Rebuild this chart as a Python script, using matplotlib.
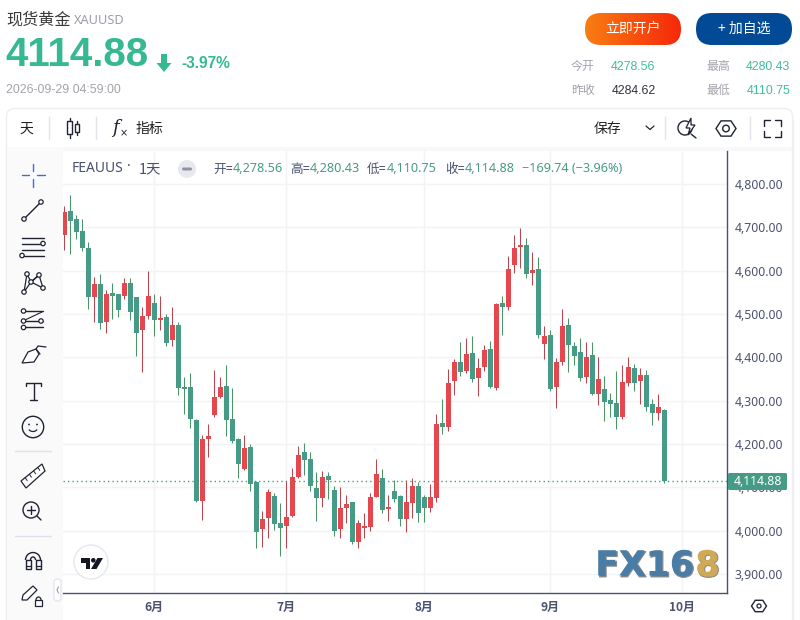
import numpy as np
import matplotlib
matplotlib.use("Agg")
import matplotlib.pyplot as plt
from matplotlib.patches import FancyBboxPatch, Rectangle, Circle, Polygon, Arc
from matplotlib.colors import LinearSegmentedColormap
import matplotlib.patheffects as pe

CJK = ['Noto Sans CJK SC', 'DejaVu Sans']
plt.rcParams['font.family'] = CJK

# ---- data ----
opens = [4681,4738,4718,4692,4653,4540,4570,4482,4549,4545,4542,4572,4538,4462,4496,4524,4487,4492,4439,4475,
         4332,4332,4255,4069,4212,4267,4309,4334,4258,4212,4142,4193,4112,4004,4029,4080,4018,4011,4034,4124,
         4182,4166,4099,4076,4126,4094,4004,4052,4066,3974,4006,4009,4078,4122,4050,4092,4080,4027,4064,4103,
         4078,4052,4075,4249,4239,4345,4389,4368,4410,4352,4378,4419,4329,4526,4516,4613,4655,4659,4595,4604,
         4431,4452,4332,4389,4475,4426,4412,4355,4406,4316,4327,4302,4295,4262,4341,4376,4345,4359,4292,4272,4278.56]
highs = [4750,4775,4729,4720,4667,4586,4591,4554,4572,4547,4582,4582,4540,4517,4598,4547,4542,4499,4517,4482,
         4355,4364,4258,4221,4246,4371,4355,4382,4329,4214,4221,4200,4115,4046,4096,4087,4064,4115,4145,4196,
         4202,4182,4136,4138,4136,4103,4101,4082,4066,4025,4041,4087,4165,4142,4082,4117,4082,4117,4122,4112,
         4082,4108,4269,4304,4373,4396,4435,4445,4449,4399,4429,4438,4526,4542,4634,4682,4699,4675,4643,4632,
         4472,4463,4399,4512,4491,4436,4445,4436,4436,4401,4357,4318,4369,4382,4401,4385,4376,4371,4304,4316,4280.43]
lows  = [4648,4639,4672,4646,4512,4482,4466,4455,4489,4492,4535,4485,4402,4367,4489,4448,4464,4427,4425,4314,
         4269,4237,4066,4025,4170,4262,4306,4219,4202,4122,4140,4092,3960,3962,3983,4002,3942,3960,4032,4122,
         4129,4092,4022,4055,4073,3988,3983,4018,3969,3960,3983,4000,4078,4041,4022,4066,4011,3997,4029,4020,
         4020,4043,4066,4223,4230,4313,4357,4364,4343,4311,4369,4329,4325,4452,4509,4595,4606,4583,4567,4445,
         4396,4322,4283,4382,4366,4382,4346,4341,4313,4290,4253,4262,4235,4258,4334,4322,4292,4276,4244,4256,4110.75]
closes= [4736,4715,4688,4651,4538,4568,4480,4545,4542,4508,4572,4505,4455,4496,4542,4485,4489,4434,4475,4328,
         4327,4258,4069,4212,4219,4309,4332,4255,4207,4154,4191,4108,3997,4027,4089,4016,4006,4032,4124,4175,
         4163,4103,4076,4124,4117,4000,4052,4062,3974,4018,4009,4078,4131,4048,4052,4073,4027,4066,4103,4041,
         4052,4078,4246,4239,4341,4389,4366,4408,4350,4376,4417,4332,4523,4516,4604,4652,4659,4592,4602,4452,
         4449,4327,4389,4472,4429,4403,4352,4401,4316,4350,4297,4292,4262,4343,4378,4341,4359,4286,4272,4286,4114.88]
month_labels = ['6月', '7月', '8月', '9月', '10月']
month_index = [15, 37, 60, 81, 103]
price_ticks = [3900, 4000, 4100, 4200, 4300, 4400, 4500, 4600, 4700, 4800]
last_price = 4114.88
stats = [('今开', '4278.56'), ('最高', '4280.43'), ('昨收', '4284.62'), ('最低', '4110.75')]

W, H = 800, 620
UP, DOWN = '#e5474f', '#459b85'
UPW, DOWNW = '#b9464f', '#4b9465'
INK = '#4a5270'
GRID = '#f2f3f5'
LINE = '#1f2333'

fig = plt.figure(figsize=(8, 6.2), dpi=100, facecolor='white')

def pix_axes(z):
    a = fig.add_axes([0, 0, 1, 1], zorder=z)
    a.set_xlim(0, W); a.set_ylim(H, 0); a.axis('off')
    a.patch.set_alpha(0)
    return a

bg = pix_axes(0)
top = pix_axes(5)

# ---- price chart ----
L, R, T, B = 63, 727, 151, 593
ax = fig.add_axes([L/W, 1-B/H, (R-L)/W, (B-T)/H], zorder=2, facecolor='white')
ax.set_xlim((L-64.3)/6, (R-64.3)/6)
ax.set_ylim(3900-(B-574)/0.4335, 3900+(574-T)/0.4335)
x = np.arange(len(opens))
o, h, l, c = map(np.array, (opens, highs, lows, closes))
up = c >= o
ax.vlines(x, l, h, colors=[UPW if u else DOWNW for u in up], lw=0.75, zorder=3)
bh = np.maximum(np.abs(c-o), 4)
ax.bar(x, bh, bottom=np.minimum(o, c), width=0.82, color=[UP if u else DOWN for u in up], lw=0, zorder=4)
ax.axhline(last_price, color=DOWN, lw=1, ls=(0, (1, 2.2)), zorder=5)
ax.set_yticks(price_ticks)
ax.set_yticklabels([f'{p:,.2f}' for p in price_ticks], family='Noto Sans', fontsize=8.8, color=INK)
ax.yaxis.tick_right()
ax.set_xticks(month_index)
ax.set_xticklabels(month_labels, fontsize=8.6, color=INK, fontweight='bold')
ax.tick_params(axis='y', length=0, pad=5.5)
ax.tick_params(axis='x', length=0, pad=6)
ax.grid(True, color=GRID, lw=1)
ax.set_axisbelow(True)
for s in ('top', 'left'):
    ax.spines[s].set_visible(False)
for s in ('right', 'bottom'):
    ax.spines[s].set_color(INK); ax.spines[s].set_linewidth(1)

# ---- helpers ----
def txt(a, px, py, s, size, color, ha='left', family=None, weight='normal'):
    return a.text(px, py, s, fontsize=size, color=color, ha=ha, va='center',
                  family=family if family else CJK, fontweight=weight)

def ln(xs, ys, color=LINE, lw=1.0, a=None):
    (a or top).plot(xs, ys, color=color, lw=lw, solid_capstyle='round', solid_joinstyle='round')

def dot(px, py, r=2.2, a=None):
    (a or top).add_patch(Circle((px, py), r, fc='white', ec=LINE, lw=0.9, zorder=4))

def hexagon(px, py, r, a=None):
    ang = np.deg2rad(np.arange(0, 360, 60))
    (a or top).add_patch(Polygon(np.c_[px+r*np.cos(ang), py+r*0.88*np.sin(ang)], closed=True, fc='none', ec=LINE, lw=1))

# ---- frame ----
bg.add_patch(FancyBboxPatch((6.5, 108.5), 786, 530, boxstyle='round,pad=0,rounding_size=8', fc='white', ec='#eeeef2', lw=1))
bg.add_patch(Rectangle((7, 147), 785, 4, fc='#f8f8fa', lw=0))
bg.add_patch(Rectangle((7, 147), 56, 473, fc='#fafafb', lw=0))
top.plot([792.5, 792.5], [120, 620], color='#eeeef2', lw=1)

# ---- header ----
txt(top, 6, 20, '现货黄金', 11.6, '#3a3a3a')
txt(top, 74, 20.5, 'XAUUSD', 9.2, '#9c9ca8', family='Noto Sans')
GREEN = '#36b893'
txt(top, 5, 54.5, '4114.88', 29, GREEN, family='Liberation Sans', weight='bold')
top.add_patch(Polygon([[161,54],[167,54],[167,63],[171.5,63],[164,72],[156.5,63],[161,63]], closed=True, fc=GREEN, lw=0))
txt(top, 181, 64, '-3.97%', 11.2, GREEN, family='Liberation Sans', weight='bold')
txt(top, 6, 90, '2026-09-29 04:59:00', 8.9, '#a3a3ab', family='Liberation Sans')

# buttons
orange = FancyBboxPatch((585, 13), 96, 32, boxstyle='round,pad=0,rounding_size=16', fc='none', ec='none')
top.add_patch(orange)
cm = LinearSegmentedColormap.from_list('btn', ['#f97d12', '#f6280a'])
im = top.imshow(np.linspace(0, 1, 96).reshape(1, -1), extent=(585, 681, 45, 13), cmap=cm, aspect='auto')
im.set_clip_path(orange)
top.set_xlim(0, W); top.set_ylim(H, 0)
top.add_patch(FancyBboxPatch((696, 13), 96, 32, boxstyle='round,pad=0,rounding_size=16', fc='#034a96', ec='none'))
txt(top, 633, 29, '立即开户', 10, 'white', ha='center')
txt(top, 744, 29, '+ 加自选', 10, 'white', ha='center')

# stats
xs_lab = [571, 706, 571, 706]
xs_val = [655.5, 790.5, 655.5, 790.5]
ys_row = [66.5, 66.5, 90.5, 90.5]
val_cols = ['#3dbd9f', '#3dbd9f', '#333340', '#3dbd9f']
for (lab, val), xl, xv, yr, vc in zip(stats, xs_lab, xs_val, ys_row, val_cols):
    txt(top, xl, yr, lab, 8.6, '#a3a3ad')
    txt(top, xv, yr, val, 8.9, vc, ha='right', family='Liberation Sans')

# ---- top toolbar ----
txt(top, 19, 129, '天', 10, '#222')
txt(top, 136, 129, '指标', 10, '#222')
txt(top, 594, 129, '保存', 10, '#222')
for sx in (48.5, 95.5, 664.5, 749.5):
    top.plot([sx, sx], [117, 139], color='#e2e4ec', lw=1)
# candle icon
ln([70, 70], [118, 138]); top.add_patch(Rectangle((67, 121), 5, 13, fc='white', ec=LINE, lw=1, zorder=4))
ln([77, 77], [121, 135]); top.add_patch(Rectangle((75, 124), 4, 8, fc='white', ec=LINE, lw=1, zorder=4))
top.text(112.5, 128, 'f', fontsize=13, color=LINE, family='DejaVu Serif', style='italic', va='center')
top.text(119.5, 133.5, '×', fontsize=7, color=LINE, family='DejaVu Sans', va='center')
ln([646, 650, 654], [126, 129.5, 126], lw=0.9)
# alert icon
top.add_patch(Arc((685, 128), 14, 14, theta1=0, theta2=360, ec=LINE, lw=1))
top.add_patch(Polygon([[691,118],[686,128],[690,128],[688,135],[695,125],[691,125]], closed=True, fc='white', ec=LINE, lw=0.9, zorder=4))
ln([691, 696], [134, 138])
hexagon(726, 128.5, 10); top.add_patch(Circle((726, 128.5), 3.3, fc='none', ec=LINE, lw=1))
for cx, cy, sx, sy in ((764,120,1,1),(781,120,-1,1),(764,137,1,-1),(781,137,-1,-1)):
    ln([cx+sx*6, cx, cx], [cy, cy, cy+sy*6], lw=1)

# ---- left toolbar ----
BLUE = '#3a6fe0'
ln([22, 29], [175, 175], BLUE); ln([37, 45], [175, 175], BLUE); ln([33, 33], [164, 171], BLUE); ln([33, 33], [179, 187], BLUE)
ln([24, 41], [219, 202]); dot(24, 219); dot(41, 202)
for yy in (237.5, 249.5, 255.5):
    ln([22, 44], [yy, yy])
ln([22, 41], [243.5, 243.5]); dot(43, 243.5); dot(22, 255.5)
pts = [(27,274),(39,275),(31,282),(24,292),(43,288)]
ln([27,31,39,31,24,27], [274,282,275,282,292,274], lw=0.9); ln([31,43,39],[282,288,275], lw=0.9)
for p in pts: dot(*p)
for yy in (311, 321, 327):
    ln([24, 43], [yy, yy])
ln([25, 42], [320, 312], lw=0.8); dot(23.5, 311); dot(23.5, 321); dot(41, 321); dot(23.5, 327.5)
# brush
top.add_patch(Polygon([[22,363],[28,352],[36,349],[39,354],[34,362]], closed=True, fc='white', ec=LINE, lw=0.9))
ln([40, 36, 38, 46], [354, 349, 346, 347], lw=0.9)
# T tool
ln([26, 26, 41, 41], [386, 383, 383, 386]); ln([33.5, 33.5], [383, 400]); ln([30, 37], [400, 400])
top.add_patch(Circle((33, 427), 10.7, fc='none', ec=LINE, lw=1))
top.add_patch(Circle((29, 424.5), 0.9, fc=LINE, lw=0)); top.add_patch(Circle((37, 424.5), 0.9, fc=LINE, lw=0))
top.add_patch(Arc((33, 428), 9, 7, theta1=20, theta2=160, ec=LINE, lw=0.9))
for yy in (451, 536):
    top.plot([15, 51], [yy, yy], color='#dfe1ea', lw=1)
# ruler
top.add_patch(Polygon([[21,481],[42,464],[45,471],[26,488]], closed=True, fc='white', ec=LINE, lw=0.9))
for t in (0.2, 0.4, 0.6, 0.8):
    ln([21+21*t, 23+21*t], [481-17*t, 484-17*t], lw=0.7)
# zoom
top.add_patch(Circle((31, 510), 8, fc='none', ec=LINE, lw=1))
ln([27, 35], [510, 510]); ln([31, 31], [506, 514]); ln([37, 41], [516, 520])
# magnet
top.add_patch(Arc((33, 560), 15, 15, theta1=180, theta2=360, ec=LINE, lw=1))
top.add_patch(Arc((33, 560), 5, 6, theta1=180, theta2=360, ec=LINE, lw=1))
ln([25.5, 25.5, 30.5, 30.5, 25.5], [560, 569, 569, 560, 560], lw=1)
ln([35.5, 35.5, 40.5, 40.5, 35.5], [560, 569, 569, 560, 560], lw=1)
ln([25.5, 30.5], [566, 566], lw=0.9); ln([35.5, 40.5], [566, 566], lw=0.9)
# pencil + lock
top.add_patch(Polygon([[22,600],[23,595],[33,586],[37,590],[27,600]], closed=True, fc='white', ec=LINE, lw=0.9))
top.add_patch(Rectangle((35, 600), 7, 6, fc='white', ec=LINE, lw=0.9))
top.add_patch(Arc((38.5, 600), 5, 6, theta1=180, theta2=360, ec=LINE, lw=0.9))
top.add_patch(FancyBboxPatch((54, 579), 7, 22, boxstyle='round,pad=0,rounding_size=3', fc='white', ec='#e5e6ee', lw=1))
ln([58.5, 57, 58.5], [587, 590, 593], '#a0a4b4', 0.9)

# ---- chart overlay ----
txt(top, 72, 169, 'FEAUUS', 10, INK, family='Noto Sans')
txt(top, 127, 167, '·', 10, INK, family='Noto Sans', weight='bold')
txt(top, 139, 169, '1天', 10.4, INK)
top.add_patch(Circle((187, 169), 9, fc='#e8e9ee', lw=0))
top.add_patch(FancyBboxPatch((182, 167.5), 10, 3, boxstyle='round,pad=0,rounding_size=1.5', fc='#8f93a3', lw=0))
for px, s, col in ((213, '开=', INK), (233, '4,278.56', '#4a9a85'), (290, '高=', INK), (310, '4,280.43', '#4a9a85'),
                   (367, '低=', INK), (387, '4,110.75', '#4a9a85'), (445, '收=', INK), (465, '4,114.88', '#4a9a85'),
                   (522, '−169.74 (−3.96%)', '#4a9a85')):
    txt(top, px, 169, s, 9.1, col, family=['Noto Sans', 'Noto Sans CJK SC'])

top.add_patch(FancyBboxPatch((728, 473), 59, 17, boxstyle='round,pad=0,rounding_size=1.5', fc=DOWN, lw=0, zorder=6))
t = txt(top, 757.5, 481.5, f'{last_price:,.2f}', 8.8, 'white', ha='center', family='Noto Sans', weight='medium')
t.set_zorder(7)
hexagon(759, 606, 7.5); top.add_patch(Circle((759, 606), 2, fc='none', ec=LINE, lw=0.9))

# logo badge + watermark
top.add_patch(Circle((91, 562), 17, fc='white', ec='#e6e7ef', lw=1))
LOGO = '#131722'
top.add_patch(Polygon([[81,558],[90,558],[90,569],[85.5,569],[85.5,562.5],[81,562.5]], closed=True, fc=LOGO, lw=0))
top.add_patch(Circle((93.3, 560.3), 2.3, fc=LOGO, lw=0))
top.add_patch(Polygon([[97.5,558],[103,558],[96.5,569],[91,569]], closed=True, fc=LOGO, lw=0))
shadow = [pe.Stroke(linewidth=0.8, foreground='#8a8a8a', offset=(1, -1)), pe.Normal()]
top.text(595, 565.5, 'FX16', fontsize=25, color='#4a7da6', ha='left', va='center', family='DejaVu Sans', fontweight='bold', path_effects=shadow)
top.text(695, 565.5, '8', fontsize=25, color='#cfa955', ha='left', va='center', family='DejaVu Sans', fontweight='bold', path_effects=shadow)

fig.savefig('out.png', dpi=100)
